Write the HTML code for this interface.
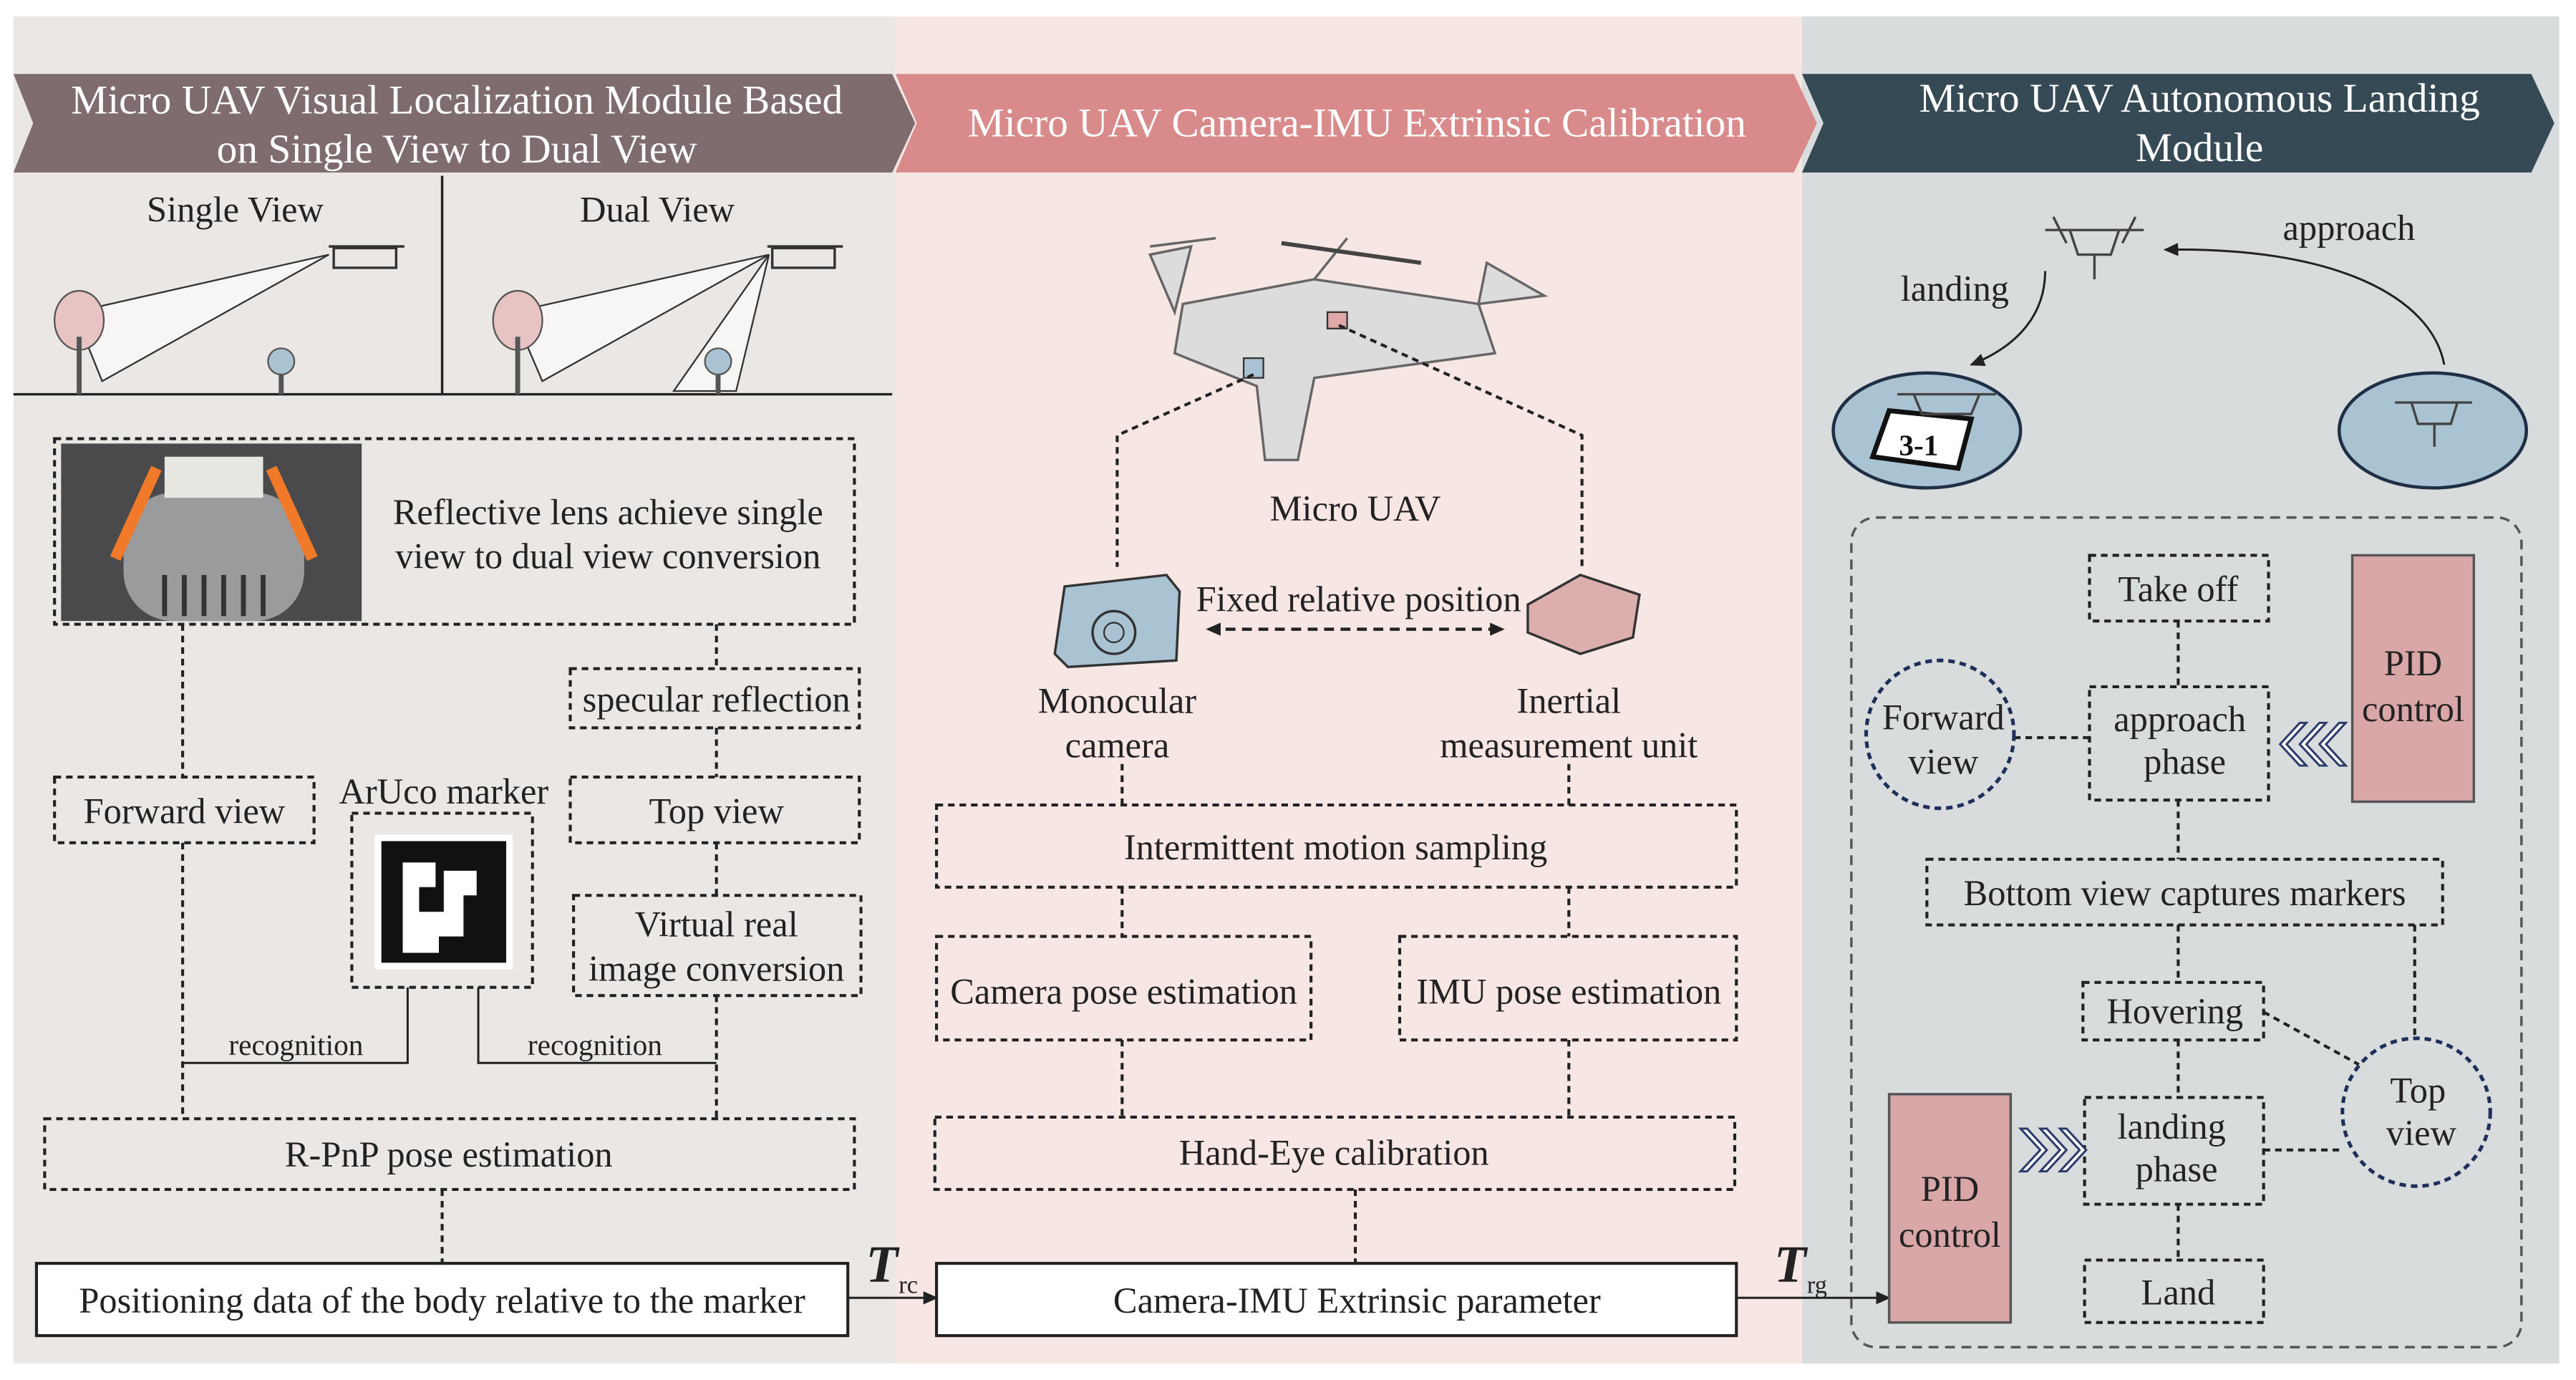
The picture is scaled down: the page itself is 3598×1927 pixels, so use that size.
<!DOCTYPE html>
<html><head><meta charset="utf-8"><style>
html,body{margin:0;padding:0;background:#fff}
svg{display:block}
svg, svg text{font-family:"Liberation Serif","DejaVu Serif","Times New Roman",serif !important;fill:#222}
</style></head><body>
<svg width="3598" height="1927" viewBox="0 0 1568 840" xmlns="http://www.w3.org/2000/svg" font-family="Liberation Serif, DejaVu Serif, serif">
<defs>
<marker id="ah" markerWidth="10" markerHeight="10" refX="8" refY="5" orient="auto" markerUnits="userSpaceOnUse"><path d="M0,1 L9,5 L0,9 z" fill="#222"/></marker>
<marker id="ahs" markerWidth="10" markerHeight="10" refX="2" refY="5" orient="auto" markerUnits="userSpaceOnUse"><path d="M9,1 L0,5 L9,9 z" fill="#222"/></marker>
</defs>
<rect width="1568" height="840" fill="#fff"/>
<rect x="8" y="10" width="537" height="820" fill="#ebe7e5"/>
<rect x="545" y="10" width="552" height="820" fill="#f6e6e4"/>
<rect x="1097" y="10" width="461" height="820" fill="#d9dcdd"/>
<polygon points="8,45 543,45 557,75 543,105 8,105 20,75" fill="#7e6c6f"/>
<polygon points="545,45 1092,45 1106,75 1092,105 545,105 558,75" fill="#d98a8a"/>
<polygon points="1097,45 1541,45 1555,75 1541,105 1097,105 1110,75" fill="#364a56"/>
<g font-size="25" text-anchor="middle">
<text x="278" y="69" style="fill:#fff">Micro UAV Visual Localization Module Based</text>
<text x="278" y="99" style="fill:#fff">on Single View to Dual View</text>
<text x="826" y="83" style="fill:#fff">Micro UAV Camera-IMU Extrinsic Calibration</text>
<text x="1339" y="68" style="fill:#fff">Micro UAV Autonomous Landing</text>
<text x="1339" y="98" style="fill:#fff">Module</text>
</g>
<line x1="269" y1="107" x2="269" y2="240" stroke="#222" stroke-width="1.5"/>
<line x1="8" y1="240" x2="543" y2="240" stroke="#222" stroke-width="1.5"/>
<g font-size="22" text-anchor="middle"><text x="143" y="135">Single View</text><text x="400" y="135">Dual View</text></g>
<polygon points="45,190 200,155 62,232" fill="#f8f6f4" stroke="#333"/>
<polygon points="312,190 468,155 330,232" fill="#f8f6f4" stroke="#333"/>
<polygon points="468,155 410,238 448,238" fill="#f8f6f4" stroke="#333"/>
<g fill="#e8c3c3" stroke="#555"><ellipse cx="48" cy="195" rx="15" ry="18"/><ellipse cx="315" cy="195" rx="15" ry="18"/></g>
<g stroke="#555" stroke-width="3"><line x1="48" y1="205" x2="48" y2="240"/><line x1="315" y1="205" x2="315" y2="240"/><line x1="171" y1="225" x2="171" y2="240"/><line x1="437" y1="225" x2="437" y2="240"/></g>
<circle cx="171" cy="220" r="8" fill="#a9c3d2" stroke="#555"/><circle cx="437" cy="220" r="8" fill="#a9c3d2" stroke="#555"/>
<g fill="none" stroke="#333" stroke-width="1.5"><rect x="203" y="151" width="38" height="12"/><line x1="200" y1="150" x2="246" y2="150"/><rect x="470" y="151" width="38" height="12"/><line x1="467" y1="150" x2="513" y2="150"/></g>
<g fill="none" stroke="#222" stroke-width="1.8" stroke-dasharray="4 3">
<rect x="33" y="267" width="487" height="113"/>
<rect x="347" y="407" width="176" height="36"/>
<rect x="33" y="473" width="158" height="40"/>
<rect x="214" y="495" width="110" height="106"/>
<rect x="347" y="473" width="176" height="40"/>
<rect x="349" y="545" width="175" height="61"/>
<rect x="27" y="681" width="493" height="43"/>
<line x1="111" y1="380" x2="111" y2="473"/><line x1="436" y1="380" x2="436" y2="407"/>
<line x1="436" y1="443" x2="436" y2="473"/><line x1="436" y1="513" x2="436" y2="545"/>
<line x1="111" y1="513" x2="111" y2="681"/><line x1="436" y1="606" x2="436" y2="681"/>
<line x1="269" y1="724" x2="269" y2="769"/>
</g>
<rect x="37" y="270" width="183" height="108" fill="#4a4a4c"/>
<rect x="75" y="300" width="110" height="78" rx="30" fill="#9a9b9d"/>
<rect x="100" y="278" width="60" height="25" fill="#e8e6e0"/>
<path d="M70,340 L95,285 M190,340 L165,285" stroke="#f07a2a" stroke-width="7"/>
<g stroke="#333" stroke-width="3"><line x1="100" y1="350" x2="100" y2="375"/><line x1="112" y1="350" x2="112" y2="375"/><line x1="124" y1="350" x2="124" y2="375"/><line x1="136" y1="350" x2="136" y2="375"/><line x1="148" y1="350" x2="148" y2="375"/><line x1="160" y1="350" x2="160" y2="375"/></g>
<rect x="228" y="508" width="84" height="82" fill="#fff"/>
<rect x="232" y="512" width="76" height="74" fill="#111"/>
<path d="M245,525 h20 v15 h-10 v15 h15 v-25 h20 v15 h-8 v25 h-15 v10 h-22 z" fill="#fff"/>
<g stroke="#222" stroke-width="1.3" fill="none"><path d="M248,601 V647 H111"/><path d="M291,601 V647 H436"/></g>
<g font-size="22" text-anchor="middle">
<text x="370" y="319">Reflective lens achieve single</text><text x="370" y="346">view to dual view conversion</text>
<text x="436" y="433">specular reflection</text>
<text x="112" y="501">Forward view</text>
<text x="270" y="489">ArUco marker</text>
<text x="436" y="501">Top view</text>
<text x="436" y="570">Virtual real</text><text x="436" y="597">image conversion</text>
<text x="180" y="642" font-size="18">recognition</text><text x="362" y="642" font-size="18">recognition</text>
<text x="273" y="710">R-PnP pose estimation</text>
</g>
<rect x="22" y="769" width="494" height="44" fill="#fff" stroke="#222" stroke-width="1.8"/>
<text x="269" y="799" font-size="22" text-anchor="middle">Positioning data of the body relative to the marker</text>
<line x1="516" y1="790" x2="570" y2="790" stroke="#222" stroke-width="1.3" marker-end="url(#ah)"/>
<text x="527" y="780" font-size="32" font-weight="bold" font-style="italic">T</text><text x="547" y="787" font-size="15">rc</text>
<g fill="#dcdcdc" stroke="#666" stroke-width="1.5">
<path d="M720,185 L800,170 L900,185 L910,215 L800,230 L790,280 L770,280 L765,235 L715,215 z"/>
<path d="M715,190 L700,155 L725,150 Z M900,185 L940,180 L905,160 Z M800,170 L820,145 M700,150 L740,145"/>
</g>
<line x1="780" y1="148" x2="865" y2="160" stroke="#444" stroke-width="2.5"/>
<rect x="757" y="218" width="12" height="12" fill="#a9c3d2" stroke="#333"/>
<rect x="808" y="190" width="12" height="10" fill="#e0a8a8" stroke="#333"/>
<g fill="none" stroke="#222" stroke-width="1.8" stroke-dasharray="4 3">
<path d="M763,228 L680,265 V345"/><path d="M815,198 L963,265 V345"/>
<line x1="683" y1="465" x2="683" y2="490"/><line x1="955" y1="465" x2="955" y2="490"/>
<rect x="570" y="490" width="487" height="50"/>
<line x1="683" y1="540" x2="683" y2="570"/><line x1="955" y1="540" x2="955" y2="570"/>
<rect x="570" y="570" width="228" height="63"/><rect x="852" y="570" width="205" height="63"/>
<line x1="683" y1="633" x2="683" y2="680"/><line x1="955" y1="633" x2="955" y2="680"/>
<rect x="569" y="680" width="487" height="44"/>
<line x1="825" y1="724" x2="825" y2="769"/>
</g>
<line x1="736" y1="383" x2="915" y2="383" stroke="#222" stroke-width="2" stroke-dasharray="6 4" marker-end="url(#ah)" marker-start="url(#ahs)"/>
<path d="M648,357 L710,350 L718,360 L716,402 L650,406 L642,398 Z" fill="#a9c3d2" stroke="#333" stroke-width="1.5"/>
<circle cx="678" cy="385" r="13" fill="none" stroke="#333" stroke-width="1.5"/><circle cx="678" cy="385" r="6" fill="none" stroke="#333"/>
<path d="M930,368 L962,350 L998,362 L994,388 L962,398 L930,385 Z" fill="#dcaeae" stroke="#333" stroke-width="1.5"/>
<g font-size="22" text-anchor="middle">
<text x="825" y="317">Micro UAV</text>
<text x="827" y="372">Fixed relative position</text>
<text x="680" y="434">Monocular</text><text x="680" y="461">camera</text>
<text x="955" y="434">Inertial</text><text x="955" y="461">measurement unit</text>
<text x="813" y="523">Intermittent motion sampling</text>
<text x="684" y="611">Camera pose estimation</text>
<text x="955" y="611">IMU pose estimation</text>
<text x="812" y="709">Hand-Eye calibration</text>
</g>
<rect x="570" y="769" width="487" height="44" fill="#fff" stroke="#222" stroke-width="1.8"/>
<text x="826" y="799" font-size="22" text-anchor="middle">Camera-IMU Extrinsic parameter</text>
<line x1="1057" y1="790" x2="1150" y2="790" stroke="#222" stroke-width="1.3" marker-end="url(#ah)"/>
<text x="1080" y="780" font-size="32" font-weight="bold" font-style="italic">T</text><text x="1100" y="787" font-size="15">rg</text>
<g font-size="22" text-anchor="middle"><text x="1430" y="146">approach</text><text x="1190" y="183">landing</text></g>
<g fill="none" stroke="#222" stroke-width="1.3">
<path d="M1488,222 C1480,180 1420,150 1318,152" marker-end="url(#ah)"/>
<path d="M1245,165 C1245,190 1230,210 1200,222" marker-end="url(#ah)"/>
</g>
<g fill="none" stroke="#444" stroke-width="1.5"><path d="M1245,140 L1305,140 M1260,140 L1265,155 L1285,155 L1290,140 M1275,155 V170 M1250,132 L1258,148 M1300,132 L1292,148"/></g>
<ellipse cx="1173" cy="262" rx="57" ry="35" fill="#a9c3d2" stroke="#1f2f45" stroke-width="2"/>
<ellipse cx="1481" cy="262" rx="57" ry="35" fill="#a9c3d2" stroke="#1f2f45" stroke-width="2"/>
<polygon points="1150,250 1200,255 1192,285 1140,278" fill="#fff" stroke="#111" stroke-width="3"/>
<text x="1168" y="277" font-size="18" font-weight="bold" text-anchor="middle" style="fill:#111">3-1</text>
<g fill="none" stroke="#444" stroke-width="1.5"><path d="M1155,240 L1215,240 M1165,240 L1170,252 L1200,252 L1205,240 M1458,245 L1505,245 M1468,245 L1472,258 L1492,258 L1496,245 M1482,258 V272"/></g>
<rect x="1127" y="315" width="408" height="505" rx="15" fill="none" stroke="#555" stroke-width="1.5" stroke-dasharray="6 4"/>
<rect x="1432" y="338" width="74" height="150" fill="#d9a7a7" stroke="#555" stroke-width="1.5"/>
<rect x="1150" y="666" width="74" height="139" fill="#d9a7a7" stroke="#555" stroke-width="1.5"/>
<g fill="none" stroke="#222" stroke-width="1.8" stroke-dasharray="4 3">
<rect x="1272" y="338" width="109" height="40"/>
<rect x="1272" y="418" width="109" height="69"/>
<rect x="1173" y="523" width="314" height="40"/>
<rect x="1268" y="598" width="110" height="35"/>
<rect x="1269" y="668" width="109" height="65"/>
<rect x="1269" y="767" width="109" height="38"/>
<line x1="1326" y1="378" x2="1326" y2="418"/><line x1="1226" y1="449" x2="1272" y2="449"/>
<line x1="1326" y1="487" x2="1326" y2="523"/><line x1="1326" y1="563" x2="1326" y2="598"/>
<line x1="1470" y1="563" x2="1470" y2="632"/><line x1="1378" y1="616" x2="1436" y2="648"/>
<line x1="1326" y1="633" x2="1326" y2="668"/><line x1="1378" y1="700" x2="1426" y2="700"/>
<line x1="1326" y1="733" x2="1326" y2="767"/>
</g>
<g fill="none" stroke="#1f2f5a" stroke-width="2.2" stroke-dasharray="4 3">
<circle cx="1181" cy="447" r="45"/><circle cx="1471" cy="677" r="45"/>
</g>
<g fill="#fff" stroke="#2a3a6a" stroke-width="1.3">
<path d="M1400,440 L1388,453 L1400,466 L1404,466 L1392,453 L1404,440 Z"/>
<path d="M1412,440 L1400,453 L1412,466 L1416,466 L1404,453 L1416,440 Z"/>
<path d="M1424,440 L1412,453 L1424,466 L1428,466 L1416,453 L1428,440 Z"/>
<path d="M1230,687 L1242,700 L1230,713 L1234,713 L1246,700 L1234,687 Z"/>
<path d="M1242,687 L1254,700 L1242,713 L1246,713 L1258,700 L1246,687 Z"/>
<path d="M1254,687 L1266,700 L1254,713 L1258,713 L1270,700 L1258,687 Z"/>
</g>
<g font-size="22" text-anchor="middle">
<text x="1326" y="366">Take off</text>
<text x="1469" y="411">PID</text><text x="1469" y="439">control</text>
<text x="1183" y="444">Forward</text><text x="1183" y="471">view</text>
<text x="1327" y="445">approach</text><text x="1330" y="471">phase</text>
<text x="1330" y="551">Bottom view captures markers</text>
<text x="1324" y="623">Hovering</text>
<text x="1472" y="671">Top</text><text x="1474" y="697">view</text>
<text x="1322" y="693">landing</text><text x="1325" y="719">phase</text>
<text x="1187" y="731">PID</text><text x="1187" y="759">control</text>
<text x="1326" y="794">Land</text>
</g>
</svg>
</body></html>
